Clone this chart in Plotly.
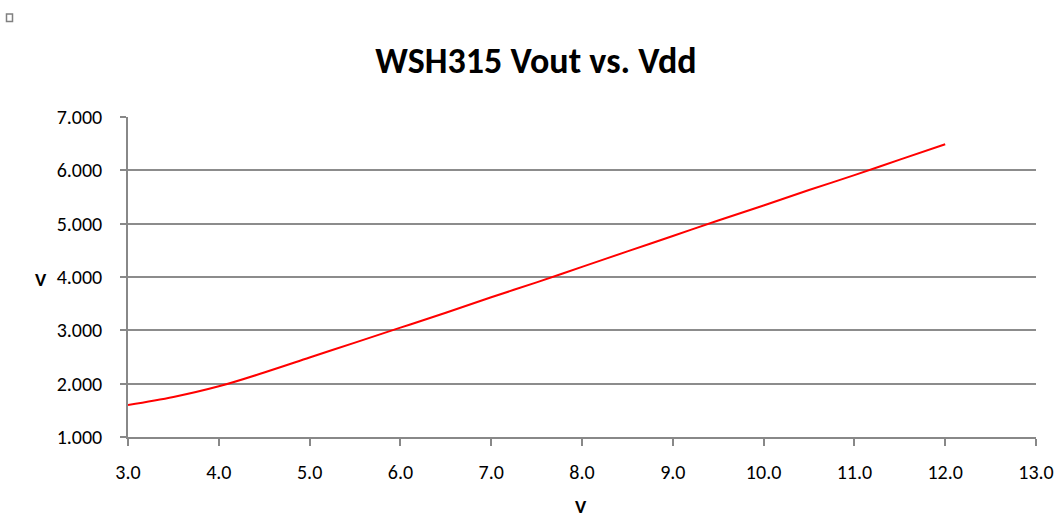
import plotly.graph_objects as go

vdd = [3.0, 3.5, 4.0, 4.5, 5.0, 5.5, 6.0, 6.5, 7.0, 7.5, 8.0, 8.5, 9.0, 9.5, 10.0, 10.5, 11.0, 11.5, 12.0]
vout = [1.60, 1.75, 1.95, 2.21, 2.49, 2.77, 3.05, 3.33, 3.62, 3.90, 4.19, 4.48, 4.77, 5.06, 5.34, 5.63, 5.91, 6.20, 6.49]

x_ticks = [3.0, 4.0, 5.0, 6.0, 7.0, 8.0, 9.0, 10.0, 11.0, 12.0, 13.0]
y_ticks = [1, 2, 3, 4, 5, 6, 7]

FONT = "Carlito, 'Liberation Sans Narrow', Lato, 'Open Sans', sans-serif"
W, H = 1059, 518
L, R, T, B = 128, 23, 117, 81

fig = go.Figure()
fig.add_trace(go.Scatter(x=vdd, y=vout, mode="lines", line=dict(color="#ff0000", width=2),
                         line_shape="spline", showlegend=False, hoverinfo="skip"))

fig.update_layout(
    width=W, height=H,
    margin=dict(l=L, r=R, t=T, b=B, autoexpand=False),
    paper_bgcolor="white", plot_bgcolor="white",
    font=dict(family=FONT, size=20, color="black"),
    title=dict(text="<b>WSH315 Vout vs. Vdd</b>", x=536 / W, xanchor="center", y=1 - 60 / H, yanchor="middle",
               font=dict(size=36, family=FONT, color="black")),
    xaxis=dict(range=[3, 13], tickvals=x_ticks, ticktext=[f"{v:.1f}" for v in x_ticks],
               showgrid=False, zeroline=False, showline=True, linecolor="#888888", linewidth=1.5,
               ticks="outside", ticklen=7, tickcolor="#888888", tickwidth=1.5, automargin=False,
               tickfont=dict(size=20), ticklabelstandoff=9),
    yaxis=dict(range=[1, 7], tickvals=y_ticks, ticktext=[f"{v:.3f}" for v in y_ticks],
               showgrid=True, gridcolor="#8c8c8c", gridwidth=1.5, zeroline=False,
               showline=True, linecolor="#888888", linewidth=1.5, automargin=False,
               ticks="outside", ticklen=6, tickcolor="#888888", tickwidth=1.5,
               tickfont=dict(size=20), ticklabelstandoff=14),
)

pw = W - L - R
ph = H - T - B
def px(x):
    return (x - L) / pw
def py(y):
    return (H - B - y) / ph

fig.add_annotation(text="<b>V</b>", x=px(41), y=py(279), xref="paper", yref="paper", showarrow=False,
                   xanchor="center", yanchor="middle", font=dict(size=19, family=FONT))
fig.add_annotation(text="<b>V</b>", x=px(581), y=py(506), xref="paper", yref="paper", showarrow=False,
                   xanchor="center", yanchor="middle", font=dict(size=19, family=FONT))
fig.add_shape(type="rect", xref="paper", yref="paper", x0=px(6.5), x1=px(12.5), y0=py(21.5), y1=py(14),
              line=dict(color="#808080", width=1.5), fillcolor="white")

fig.write_html("out.html", config={"displayModeBar": False},
               post_script="document.body.style.margin='0';document.body.style.overflow='hidden';")
